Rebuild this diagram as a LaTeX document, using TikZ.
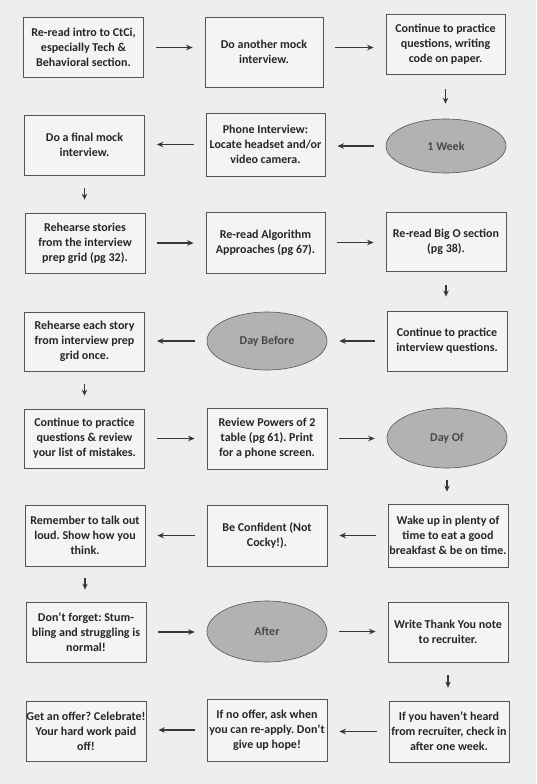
\documentclass[tikz,border=0pt]{standalone}
\usepackage{fontspec}
\setmainfont{Carlito}
\frenchspacing
\usetikzlibrary{shapes.geometric,arrows.meta}
\definecolor{bg}{HTML}{EEEEEC}
\definecolor{boxfill}{HTML}{F4F4F2}
\definecolor{edge}{HTML}{555555}
\definecolor{ink}{HTML}{262626}
\definecolor{ellfill}{HTML}{B2B2B0}
\definecolor{ellink}{HTML}{484848}
\definecolor{arr}{HTML}{383838}
\tikzset{
  stepbox/.style={draw=edge, line width=0.8pt, fill=boxfill, text=ink,
    minimum width=120pt, minimum height=60pt, inner sep=0pt,
    align=center, font=\fontsize{12}{15}\selectfont\bfseries},
  milestone/.style={ellipse, draw=edge, line width=0.6pt, fill=ellfill, text=ellink,
    minimum width=120pt, minimum height=56pt, inner sep=0pt,
    font=\fontsize{12}{15}\selectfont\bfseries},
  harrow/.style={draw=arr, line width=1.2pt, -{Stealth[length=6.5pt,width=5.5pt]},
    shorten <=12pt, shorten >=12pt},
  varrow/.style={draw=arr, line width=1.2pt, -{Stealth[length=6pt,width=5.5pt]},
    shorten <=#1, shorten >=#1},
}
\begin{document}
\begin{tikzpicture}[x=1pt,y=-1pt]
\fill[bg] (0,0) rectangle (536,784);
\useasboundingbox (0,0) rectangle (536,784);
% Row 1
\node[stepbox] (b11) at (83.5,47.5) {Re-read intro to CtCi,\\especially Tech \&\\Behavioral section.};
\node[stepbox, minimum width=118pt, minimum height=70pt] (b12) at (264,52) {Do another mock\\interview.};
\node[stepbox, minimum width=119pt] (b13) at (445.5,44) {Continue to practice\\questions, writing\\code on paper.};
% Row 2
\node[stepbox] (b21) at (84.5,145) {Do a final mock\\interview.};
\node[stepbox, minimum width=119pt, minimum height=63pt] (b22) at (265.5,144.5) {Phone Interview:\\Locate headset and/or\\video camera.};
\node[milestone, minimum height=54pt] (e1) at (446,146) {1 Week};
% Row 3
\node[stepbox] (b31) at (85,243) {Rehearse stories\\from the interview\\prep grid (pg 32).};
\node[stepbox, minimum width=119pt, minimum height=61pt] (b32) at (265.5,242.5) {Re-read Algorithm\\Approaches (pg 67).};
\node[stepbox, minimum height=59pt] (b33) at (446,241.5) {Re-read Big O section\\(pg 38).};
% Row 4
\node[stepbox, minimum height=59pt] (b41) at (84.5,341.5) {Rehearse each story\\from interview prep\\grid once.};
\node[milestone, minimum height=58pt] (e2) at (267,341) {Day Before};
\node[stepbox] (b43) at (447,341) {Continue to practice\\interview questions.};
% Row 5
\node[stepbox, minimum height=59pt] (b51) at (84.5,438.5) {Continue to practice\\questions \& review\\your list of mistakes.};
\node[stepbox, minimum height=61pt] (b52) at (267,438.5) {Review Powers of 2\\table (pg 61). Print\\for a phone screen.};
\node[milestone, minimum height=60pt] (e3) at (447,438) {Day Of};
% Row 6
\node[stepbox, minimum height=61pt] (b61) at (85,535.5) {Remember to talk out\\loud. Show how you\\think.};
\node[stepbox, minimum height=61pt] (b62) at (267,535.5) {Be Confident (Not\\Cocky!).};
\node[stepbox, minimum height=63pt] (b63) at (448,535.5) {Wake up in plenty of\\time to eat a good\\breakfast \& be on time.};
% Row 7
\node[stepbox] (b71) at (86,632) {Don’t forget: Stum-\\bling and struggling is\\normal!};
\node[milestone, minimum height=61pt] (e4) at (267,631.5) {After};
\node[stepbox] (b73) at (448,632) {Write Thank You note\\to recruiter.};
% Row 8
\node[stepbox] (b81) at (86,731) {Get an offer? Celebrate!\\Your hard work paid\\off!};
\node[stepbox, minimum height=62pt] (b82) at (267,730) {If no offer, ask when\\you can re-apply. Don’t\\give up hope!};
\node[stepbox, minimum height=61pt] (b83) at (449,731.5) {If you haven’t heard\\from recruiter, check in\\after one week.};
% Horizontal arrows
\draw[harrow] (b11.east) -- (b11.east -| b12.west);
\draw[harrow] (b12.east |- b11.east) -- (b11.east -| b13.west);
\draw[harrow] (e1.west) -- (e1.west -| b22.east);
\draw[harrow] (b22.west) -- (b22.west -| b21.east);
\draw[harrow] (b31.east) -- (b31.east -| b32.west);
\draw[harrow] (b32.east) -- (b32.east -| b33.west);
\draw[harrow] (b43.west) -- (b43.west -| e2.east);
\draw[harrow] (e2.west) -- (e2.west -| b41.east);
\draw[harrow] (b51.east) -- (b51.east -| b52.west);
\draw[harrow] (b52.east) -- (b52.east -| e3.west);
\draw[harrow] (b63.west) -- (b63.west -| b62.east);
\draw[harrow] (b62.west) -- (b62.west -| b61.east);
\draw[harrow] (b71.east) -- (b71.east -| e4.west);
\draw[harrow] (e4.east) -- (e4.east -| b73.west);
\draw[harrow] (b83.west) -- (b83.west -| b82.east);
\draw[harrow] (b82.west) -- (b82.west -| b81.east);
% Vertical arrows
\draw[varrow=15pt] (b13.south) -- (b13.south |- e1.north);
\draw[varrow=13pt] (b21.south) -- (b21.south |- b31.north);
\draw[varrow=14pt] (b33.south) -- (b33.south |- b43.north);
\draw[varrow=13pt] (b41.south) -- (b41.south |- b51.north);
\draw[varrow=12pt] (e3.south) -- (e3.south |- b63.north);
\draw[varrow=12pt] (b61.south) -- (b61.south |- b71.north);
\draw[varrow=13pt] (b73.south) -- (b73.south |- b83.north);
\end{tikzpicture}
\end{document}
